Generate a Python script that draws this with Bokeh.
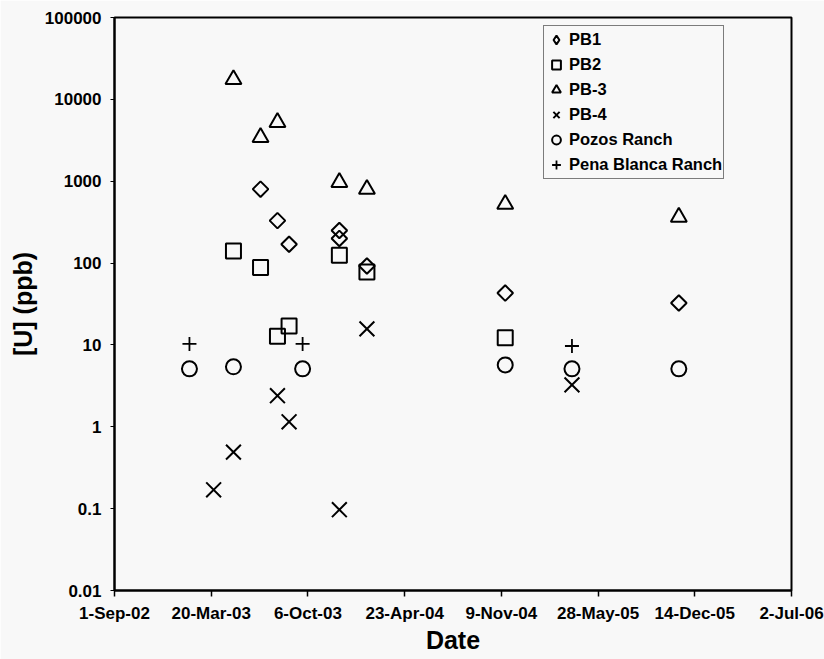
import math
import pandas as pd
from bokeh.plotting import figure
from bokeh.models import Range1d, FixedTicker, Legend, LegendItem, LogScale
from bokeh.embed import file_html
from bokeh.resources import INLINE

# ---- data ----
pb1_dates = ["2003-06-30", "2003-08-04", "2003-08-28", "2003-12-10", "2003-12-10",
             "2004-02-05", "2004-11-17", "2005-11-11"]
pb1_u = [800, 330, 170, 250, 200, 92, 43, 32.5]

pb2_dates = ["2003-05-05", "2003-06-30", "2003-08-04", "2003-08-28", "2003-12-10",
             "2004-02-05", "2004-11-17"]
pb2_u = [140, 88, 12.8, 17, 125, 78, 12.2]

pb3_dates = ["2003-05-05", "2003-06-30", "2003-08-04", "2003-12-10", "2004-02-05",
             "2004-11-17", "2005-11-11"]
pb3_u = [17500, 3440, 5250, 970, 800, 525, 365]

pb4_dates = ["2003-03-25", "2003-05-05", "2003-08-04", "2003-08-28", "2003-12-10",
             "2004-02-05", "2005-04-04"]
pb4_u = [0.17, 0.49, 2.4, 1.15, 0.097, 15.7, 3.25]

pozos_dates = ["2003-02-03", "2003-05-05", "2003-09-25", "2004-11-17", "2005-04-04",
               "2005-11-11"]
pozos_u = [5.1, 5.4, 5.1, 5.7, 5.1, 5.1]

pena_dates = ["2003-02-03", "2003-09-25", "2005-04-04"]
pena_u = [10.3, 10.3, 9.7]

x_tick_dates = ["2002-09-01", "2003-03-20", "2003-10-06", "2004-04-23",
                "2004-11-09", "2005-05-28", "2005-12-14", "2006-07-02"]
x_tick_labels = ["1-Sep-02", "20-Mar-03", "6-Oct-03", "23-Apr-04",
                 "9-Nov-04", "28-May-05", "14-Dec-05", "2-Jul-06"]
y_ticks = [0.01, 0.1, 1, 10, 100, 1000, 10000, 100000]
y_tick_labels = ["0.01", "0.1", "1", "10", "100", "1000", "10000", "100000"]

series_names = ["PB1", "PB2", "PB-3", "PB-4", "Pozos Ranch", "Pena Blanca Ranch"]


def ms(d):
    return float(pd.Timestamp(d).value // 10**6)


FONT = "Liberation Sans"
BG = "#f8f8f8"

x_tick_ms = [ms(d) for d in x_tick_dates]

p = figure(width=824, height=659, x_axis_type="datetime", y_axis_type="log",
           x_range=Range1d(x_tick_ms[0], x_tick_ms[-1]),
           y_range=Range1d(y_ticks[0], y_ticks[-1]),
           output_backend="svg", toolbar_location=None,
           min_border_left=114, min_border_right=33,
           min_border_top=17, min_border_bottom=69,
           background_fill_color=BG, border_fill_color=BG)

# an off-screen range used only so the legend key for PB1 can be a diamond
p.extra_y_ranges = {"key": Range1d(1e20, 1e21)}
p.extra_y_scales = {"key": LogScale()}

p.xgrid.visible = False
p.ygrid.visible = False
p.outline_line_color = "black"
p.outline_line_width = 2

# x axis
xa = p.xaxis[0]
xa.ticker = FixedTicker(ticks=x_tick_ms)
xa.major_label_overrides = {t: l for t, l in zip(x_tick_ms, x_tick_labels)}
xa.minor_tick_line_color = None
xa.major_tick_out = 6
xa.major_tick_in = 0
xa.major_tick_line_width = 1.5
xa.axis_line_width = 2
xa.major_label_standoff = 7
xa.major_label_text_font = FONT
xa.major_label_text_font_style = "bold"
xa.major_label_text_font_size = "17px"
xa.major_label_text_color = "black"
xa.axis_label = "Date"
xa.axis_label_text_font = FONT
xa.axis_label_text_font_style = "bold"
xa.axis_label_text_font_size = "25px"
xa.axis_label_text_color = "black"
xa.axis_label_standoff = 0

# y axis
ya = p.yaxis[0]
ya.ticker = FixedTicker(ticks=y_ticks)
ya.major_label_overrides = {t: l for t, l in zip(y_ticks, y_tick_labels)}
ya.minor_tick_line_color = None
ya.major_tick_out = 4
ya.major_tick_in = 0
ya.axis_line_width = 2
ya.major_label_standoff = 9
ya.major_label_text_font = FONT
ya.major_label_text_font_style = "bold"
ya.major_label_text_font_size = "17px"
ya.major_label_text_color = "black"
ya.axis_label = "[U] (ppb)"
ya.axis_label_text_font = FONT
ya.axis_label_text_font_style = "bold"
ya.axis_label_text_font_size = "25px"
ya.axis_label_text_color = "black"
ya.axis_label_standoff = 5

common = dict(line_color="black", line_width=2, fill_color=None)

r1 = p.scatter(pd.to_datetime(pb1_dates), pb1_u, marker="square", angle=math.pi / 4,
               size=11, **common)
r2 = p.scatter(pd.to_datetime(pb2_dates), pb2_u, marker="square", size=15, **common)
r3 = p.scatter(pd.to_datetime(pb3_dates), pb3_u, marker="triangle", size=16, **common)
r4 = p.scatter(pd.to_datetime(pb4_dates), pb4_u, marker="x", size=21, **common)
r5 = p.scatter(pd.to_datetime(pozos_dates), pozos_u, marker="circle", size=15, **common)
r6 = p.scatter(pd.to_datetime(pena_dates), pena_u, marker="cross", size=14,
               line_color="black", line_width=1.8)

# legend key for PB1 (legend glyphs are drawn unrotated, so use a diamond here);
# it is mapped to the off-screen range and never shows inside the plot frame
r1_key = p.scatter(pd.to_datetime(pb1_dates), pb1_u, marker="diamond",
                   y_range_name="key", **common)

legend = Legend(items=[LegendItem(label=n, renderers=[r])
                       for n, r in zip(series_names, [r1_key, r2, r3, r4, r5, r6])],
                location=(429, 411))
legend.label_text_font = FONT
legend.label_text_font_style = "bold"
legend.label_text_font_size = "16.5px"
legend.label_text_color = "black"
legend.label_height = 25
legend.glyph_height = 25
legend.glyph_width = 22
legend.label_standoff = 2
legend.spacing = 0
legend.padding = 1
legend.margin = 0
legend.border_line_color = "black"
legend.border_line_width = 1
legend.background_fill_color = BG
legend.background_fill_alpha = 1
p.add_layout(legend)

open("out.html", "w").write(file_html(p, INLINE))
